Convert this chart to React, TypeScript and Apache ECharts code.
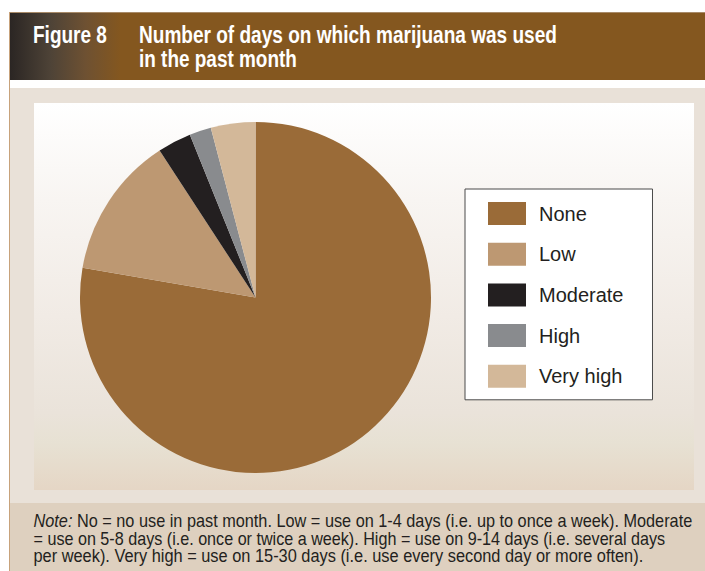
import React, { useEffect, useRef } from "react";
import * as echarts from "echarts";

const categories = ["None", "Low", "Moderate", "High", "Very high"];
const values = [77.7, 13.1, 3.1, 2.0, 4.1];
const colors = ["#9A6B38", "#BD9872", "#231F20", "#898B8E", "#D3B899"];
const figureLabel = "Figure 8";
const titleLines = ["Number of days on which marijuana was used", "in the past month"];
const noteLead = "Note:";
const noteLines = [
  " No = no use in past month. Low = use on 1-4 days (i.e. up to once a week). Moderate",
  "= use on 5-8 days (i.e. once or twice a week). High = use on 9-14 days (i.e. several days",
  "per week). Very high = use on 15-30 days (i.e. use every second day or more often).",
];

const FONT = "'Liberation Sans', Arial, sans-serif";

export default function App() {
  const ref = useRef<HTMLDivElement>(null);
  useEffect(() => {
    document.body.style.margin = "0";
    const ctx = document.createElement("canvas").getContext("2d")!;
    const measure = (font: string, text: string) => {
      ctx.font = font;
      return ctx.measureText(text).width;
    };
    const titleFont = `bold 23px ${FONT}`;
    const noteFont = `17.5px ${FONT}`;
    const noteItalic = `italic 17.5px ${FONT}`;
    const fit = (font: string, text: string, target: number) => target / measure(font, text);
    const sFig = fit(titleFont, figureLabel, 74);
    const sT1 = fit(titleFont, titleLines[0], 418);
    const sT2 = fit(titleFont, titleLines[1], 158);
    const n1w = measure(noteItalic, noteLead) + measure(noteFont, noteLines[0]);
    const sN1 = 659 / n1w;
    const sN2 = fit(noteFont, noteLines[1], 632);
    const sN3 = fit(noteFont, noteLines[2], 610);

    const chart = echarts.init(ref.current!, null, { renderer: "svg" });
    const txt = (x: number, y: number, s: number, text: string, font: string, fill: string, rich?: any) => ({
      type: "text", z: 5, x, y, scaleX: s, silent: true,
      style: { text, fill, font, verticalAlign: "middle", align: "left", rich },
    });
    const option: any = {
      animation: false,
      backgroundColor: "#FFFFFF",
      graphic: [
        {
          type: "rect", z: -10, silent: true,
          shape: { x: 9, y: 12, width: 696, height: 68 },
          style: {
            fill: new echarts.graphic.LinearGradient(0, 0, 1, 0, [
              { offset: 0, color: "#2A2523" },
              { offset: 0.06, color: "#4E4337" },
              { offset: 0.11, color: "#6E5132" },
              { offset: 0.16, color: "#84571F" },
              { offset: 1, color: "#84571F" },
            ]),
          },
        },
        {
          type: "rect", z: -9, silent: true,
          shape: { x: 9, y: 12, width: 696, height: 1 },
          style: { fill: "#A88A68" },
        },
        {
          type: "rect", z: -10, silent: true,
          shape: { x: 9, y: 88, width: 696, height: 415 },
          style: { fill: "#E9E1D8" },
        },
        {
          type: "rect", z: -9, silent: true,
          shape: { x: 34, y: 103, width: 660, height: 387 },
          style: {
            fill: new echarts.graphic.LinearGradient(0, 0, 0, 1, [
              { offset: 0, color: "#FFFFFF" },
              { offset: 0.25, color: "#F8F5F2" },
              { offset: 0.55, color: "#F1EBE5" },
              { offset: 0.8, color: "#EAE3DA" },
              { offset: 0.88, color: "#E7E1D3" },
              { offset: 1, color: "#E5D6C5" },
            ]),
          },
        },
        {
          type: "rect", z: -10, silent: true,
          shape: { x: 9, y: 503, width: 696, height: 68 },
          style: { fill: "#DED0BF" },
        },
        {
          type: "rect", z: -8, silent: true,
          shape: { x: 9, y: 12, width: 1, height: 559 },
          style: { fill: "#C7A27B" },
        },
        txt(33, 35, sFig, figureLabel, titleFont, "#FFFFFF"),
        txt(139, 35, sT1, titleLines[0], titleFont, "#FFFFFF"),
        txt(139, 59, sT2, titleLines[1], titleFont, "#FFFFFF"),
        txt(33.5, 521.5, sN1, "{i|" + noteLead + "}" + noteLines[0], noteFont, "#231F20", {
          i: { fontStyle: "italic", fontSize: 17.5, fontFamily: FONT, fill: "#231F20" },
        }),
        txt(33.5, 539, sN2, noteLines[1], noteFont, "#231F20"),
        txt(33.5, 556.5, sN3, noteLines[2], noteFont, "#231F20"),
      ],
      legend: {
        orient: "vertical",
        left: 465,
        top: 189,
        padding: [13, 29, 12, 23],
        backgroundColor: "#FFFFFF",
        borderColor: "#4A4A4A",
        borderWidth: 1,
        icon: "rect",
        itemWidth: 38,
        itemHeight: 23,
        itemGap: 17.7,
        selectedMode: false,
        textStyle: {
          fontFamily: FONT,
          fontSize: 20,
          color: "#231F20",
          padding: [0, 0, 0, 8],
        },
        data: categories,
      },
      series: [
        {
          type: "pie",
          center: [255.5, 297.5],
          radius: 175.5,
          startAngle: 90,
          clockwise: true,
          label: { show: false },
          labelLine: { show: false },
          silent: true,
          itemStyle: { borderWidth: 0 },
          data: categories.map((c, i) => ({
            name: c,
            value: values[i],
            itemStyle: { color: colors[i] },
          })),
        },
      ],
    };
    chart.setOption(option);
    return () => chart.dispose();
  }, []);
  return (
    <div
      ref={ref}
      style={{ position: "fixed", left: 0, top: 0, width: 705, height: 571 }}
    />
  );
}
